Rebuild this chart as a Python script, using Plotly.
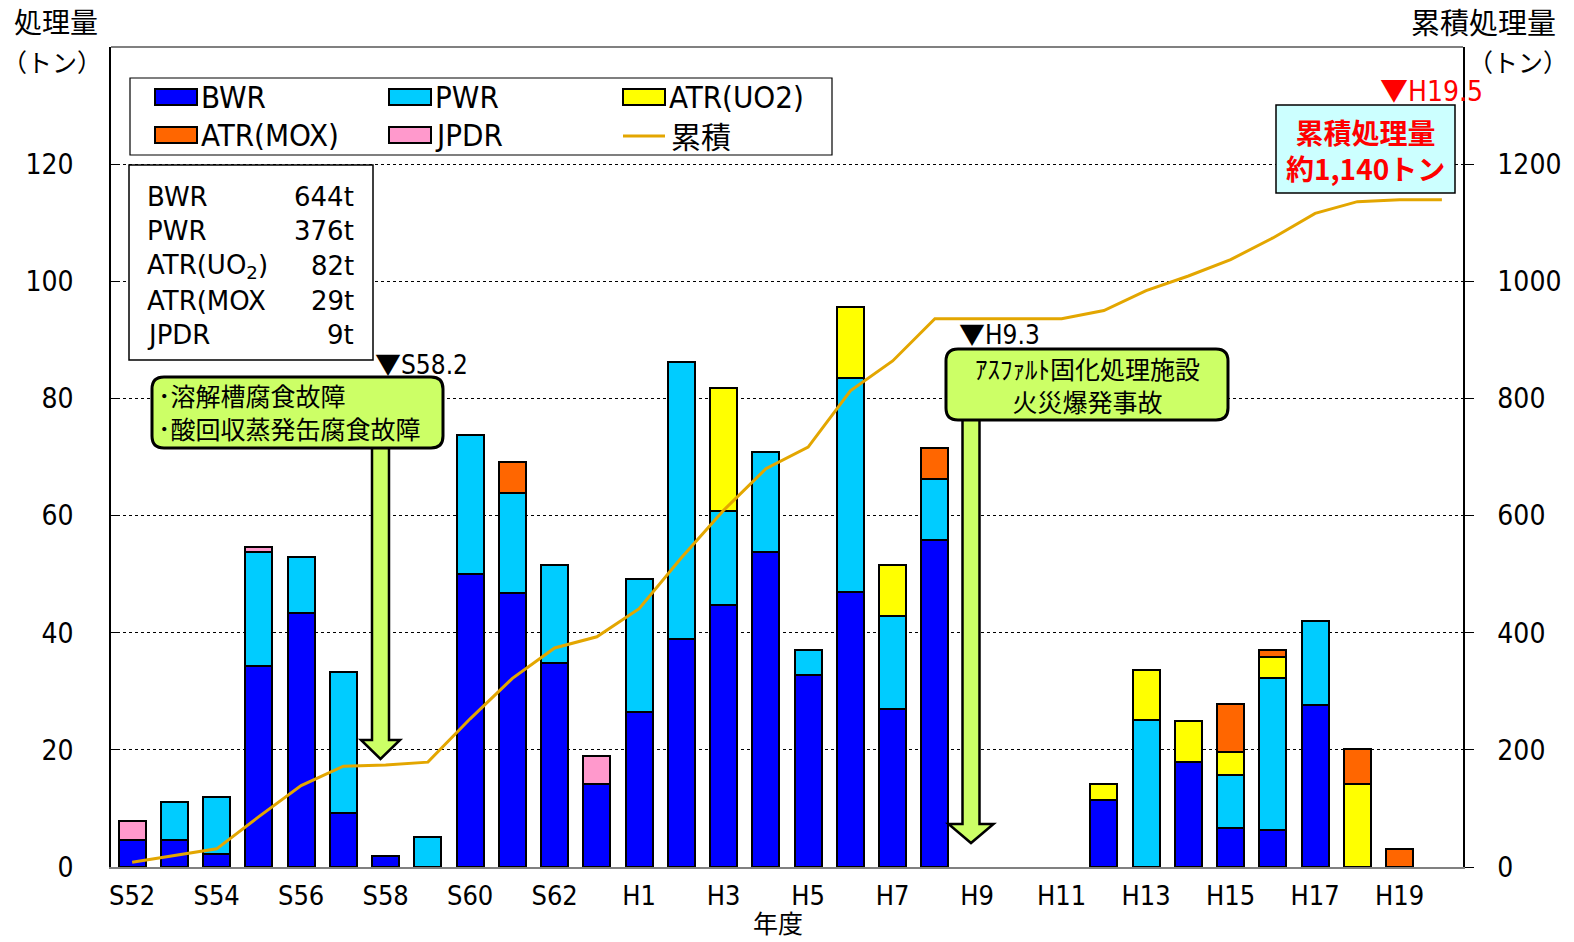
import plotly.graph_objects as go

# 年度 (fiscal years)
years = ([f"S{n}" for n in range(52, 64)] + [f"H{n}" for n in range(1, 21)])

# 処理量 per year (tons), stacked bottom to top
bwr = [4.6, 4.6, 2.3, 34.4, 43.4, 9.3, 1.8, 0, 50.0, 46.8, 34.8, 14.1,
       26.5, 39.0, 44.7, 53.8, 32.7, 47.0, 27.0, 55.8, 0, 0, 0, 11.5,
       0, 17.9, 6.7, 6.4, 27.6, 0, 0, 0]
pwr = [0, 6.5, 9.6, 19.4, 9.6, 24.0, 0, 5.2, 23.7, 17.1, 16.7, 0,
       22.6, 47.3, 16.1, 17.1, 4.3, 36.5, 15.8, 10.4, 0, 0, 0, 0,
       25.1, 0, 9.0, 25.8, 14.4, 0, 0, 0]
atr_uo2 = [0, 0, 0, 0, 0, 0, 0, 0, 0, 0, 0, 0,
           0, 0, 21.0, 0, 0, 12.1, 8.7, 0, 0, 0, 0, 2.7,
           8.6, 7.1, 3.9, 3.7, 0, 14.1, 0, 0]
atr_mox = [0, 0, 0, 0, 0, 0, 0, 0, 0, 5.3, 0, 0,
           0, 0, 0, 0, 0, 0, 0, 5.3, 0, 0, 0, 0,
           0, 0, 8.3, 1.2, 0, 6.1, 3.0, 0]
jpdr = [3.3, 0, 0, 0.9, 0, 0, 0, 0, 0, 0, 0, 4.9,
        0, 0, 0, 0, 0, 0, 0, 0, 0, 0, 0, 0,
        0, 0, 0, 0, 0, 0, 0, 0]

# 累積処理量 (tons)
cumulative = [8, 19, 31, 86, 139, 172, 174, 179, 253, 322, 374, 393,
              441, 528, 609, 680, 717, 813, 864, 936, 936, 936, 936, 950,
              984, 1009, 1037, 1074, 1116, 1136, 1139, 1139]

x_ticks = years[::2]
y_ticks = [0, 20, 40, 60, 80, 100, 120]
y2_ticks = [0, 200, 400, 600, 800, 1000, 1200]

series = [
    ("BWR", bwr, "#0000FF"),
    ("PWR", pwr, "#00CCFF"),
    ("ATR(UO2)", atr_uo2, "#FFFF00"),
    ("ATR(MOX)", atr_mox, "#FF6600"),
    ("JPDR", jpdr, "#FF99CC"),
]
LINE_COLOR = "#E3A600"
GREEN = "#CCFF66"

W, H = 1574, 942
X0, X1, Y0, Y1 = 111, 1463, 47, 867  # plot area, pixels


def px(x):
    return (x - X0) / (X1 - X0)


def py(y):
    return (Y1 - y) / (Y1 - Y0)


JP = "Noto Sans CJK JP"
NARROW = "Liberation Sans Narrow, DejaVu Sans Condensed, Liberation Sans"


def tri(text):
    # ▼ marker drawn in the CJK face so it keeps its full size
    return f"<span style='font-family:{JP}'>▼</span>{text}"


fig = go.Figure()
for name, vals, color in series:
    fig.add_trace(go.Bar(
        x=years, y=[v if v else None for v in vals], name=name,
        marker=dict(color=color, line=dict(color="black", width=2)),
        width=0.64, showlegend=False,
    ))
fig.add_trace(go.Scatter(
    x=years, y=cumulative, yaxis="y2", mode="lines", name="累積",
    line=dict(color=LINE_COLOR, width=3), showlegend=False,
))

shapes = []
annotations = []


def note(x, y, text, size, family=JP, color="black", xanchor="center", align="center"):
    annotations.append(dict(xref="paper", yref="paper", x=px(x), y=py(y), text=text,
                            showarrow=False, xanchor=xanchor, yanchor="middle", align=align,
                            font=dict(family=family, size=size, color=color)))


# top frame line
shapes.append(dict(type="line", xref="paper", yref="paper", x0=0, x1=1, y0=1, y1=1,
                   line=dict(color="#808080", width=2)))

# legend box
shapes.append(dict(type="rect", xref="paper", yref="paper",
                   x0=px(130), x1=px(832), y0=py(155), y1=py(78),
                   line=dict(color="black", width=1.2), fillcolor="white", layer="above"))
legend_cols = [155, 389, 623]
legend_rows = [97, 135]
entries = [("BWR", "#0000FF"), ("PWR", "#00CCFF"), ("ATR(UO2)", "#FFFF00"),
           ("ATR(MOX)", "#FF6600"), ("JPDR", "#FF99CC"), ("累積", None)]
for i, (label, color) in enumerate(entries):
    cx = legend_cols[i % 3]
    cy = legend_rows[i // 3]
    if color:
        shapes.append(dict(type="rect", xref="paper", yref="paper",
                           x0=px(cx), x1=px(cx + 42), y0=py(cy + 8), y1=py(cy - 8),
                           line=dict(color="black", width=2), fillcolor=color, layer="above"))
        note(cx + 44, cy, label, 31, family=NARROW, xanchor="left")
    else:
        shapes.append(dict(type="line", xref="paper", yref="paper",
                           x0=px(cx), x1=px(cx + 42), y0=py(cy + 1), y1=py(cy + 1),
                           line=dict(color=LINE_COLOR, width=3), layer="above"))
        note(cx + 46, cy, label, 30, xanchor="left")

# totals box
shapes.append(dict(type="rect", xref="paper", yref="paper",
                   x0=px(129), x1=px(373), y0=py(360), y1=py(165),
                   line=dict(color="black", width=1.5), fillcolor="white", layer="above"))
totals = [("BWR", "644t"), ("PWR", "376t"), ("ATR(UO<sub>2</sub>)", "82t"),
          ("ATR(MOX", "29t"), ("JPDR", "9t")]
for i, (lab, val) in enumerate(totals):
    yy = 197 + i * 34.5
    note(145, yy, lab, 26, family="DejaVu Sans", xanchor="left", align="left")
    note(356, yy, val, 26, family="DejaVu Sans", xanchor="right", align="right")


def down_arrow(cx, top, neck, tip, shaft_half, head_half):
    pts = [(cx - shaft_half, top), (cx + shaft_half, top), (cx + shaft_half, neck),
           (cx + head_half, neck), (cx, tip), (cx - head_half, neck), (cx - shaft_half, neck)]
    return "M " + " L ".join(f"{px(a):.5f},{py(b):.5f}" for a, b in pts) + " Z"


def rounded_rect(x0, y0, x1, y1, r):
    p = [
        ("M", [(x0 + r, y0)]), ("L", [(x1 - r, y0)]), ("Q", [(x1, y0), (x1, y0 + r)]),
        ("L", [(x1, y1 - r)]), ("Q", [(x1, y1), (x1 - r, y1)]), ("L", [(x0 + r, y1)]),
        ("Q", [(x0, y1), (x0, y1 - r)]), ("L", [(x0, y0 + r)]), ("Q", [(x0, y0), (x0 + r, y0)]),
    ]
    out = []
    for cmd, pts in p:
        out.append(cmd + " " + " ".join(f"{px(a):.5f},{py(b):.5f}" for a, b in pts))
    return " ".join(out) + " Z"


# S58.2 event
shapes.append(dict(type="path", xref="paper", yref="paper",
                   path=down_arrow(380.5, 440, 740, 759, 8.5, 19.5),
                   fillcolor=GREEN, line=dict(color="black", width=2.5), layer="above"))
shapes.append(dict(type="path", xref="paper", yref="paper",
                   path=rounded_rect(152, 377, 443, 448, 12),
                   fillcolor=GREEN, line=dict(color="black", width=3), layer="above"))
note(156, 412, "･溶解槽腐食故障<br>･酸回収蒸発缶腐食故障", 25, xanchor="left", align="left")
note(373, 362, tri("S58.2"), 26, family=NARROW, xanchor="left", align="left")

# H9.3 event
shapes.append(dict(type="path", xref="paper", yref="paper",
                   path=down_arrow(971, 412, 824, 843, 8.5, 22.5),
                   fillcolor=GREEN, line=dict(color="black", width=2.5), layer="above"))
shapes.append(dict(type="path", xref="paper", yref="paper",
                   path=rounded_rect(946, 349, 1228, 420, 12),
                   fillcolor=GREEN, line=dict(color="black", width=3), layer="above"))
note(1087, 384, "ｱｽﾌｧﾙﾄ固化処理施設<br>火災爆発事故", 25)
note(957, 332, tri("H9.3"), 26, family=NARROW, xanchor="left", align="left")

# H19.5 total
shapes.append(dict(type="rect", xref="paper", yref="paper",
                   x0=px(1276), x1=px(1455), y0=py(193), y1=py(105),
                   line=dict(color="black", width=1.5), fillcolor="#CCFFFF", layer="above"))
note(1365, 150, "<b>累積処理量<br>約1,140トン</b>", 28, color="#FF0000")
note(1378, 89, tri("H19.5"), 28, family=NARROW, color="#FF0000", xanchor="left", align="left")

# axis titles
note(56, 21, "処理量", 28)
note(52, 61, "（トン）", 25)
note(1483, 21, "累積処理量", 29)
note(1518, 61, "（トン）", 25)
note(778, 922, "年度", 25)

fig.update_layout(
    width=W, height=H,
    margin=dict(l=X0, r=W - X1, t=Y0, b=H - Y1, pad=0),
    paper_bgcolor="white", plot_bgcolor="white",
    barmode="stack", bargap=0.36,
    xaxis=dict(type="category", categoryorder="array", categoryarray=years,
               range=[-0.5, len(years) - 0.5], tickvals=x_ticks, ticktext=x_ticks,
               showline=True, linecolor="#808080", linewidth=2, ticks="",
               showgrid=False, tickfont=dict(family=NARROW, size=27, color="black"),
               ticklabelstandoff=4),
    yaxis=dict(range=[0, 140], tickvals=y_ticks, showgrid=True, gridcolor="black",
               griddash="dot", gridwidth=1, zeroline=False, showline=True,
               linecolor="black", linewidth=1.5, ticks="inside", ticklen=9,
               tickcolor="black", tickfont=dict(family=NARROW, size=28, color="black"),
               ticklabelstandoff=30),
    yaxis2=dict(range=[0, 1400], tickvals=y2_ticks, overlaying="y", side="right",
                showgrid=False, zeroline=False, showline=True, linecolor="black",
                linewidth=1.5, ticks="outside", ticklen=9, tickcolor="black",
                tickfont=dict(family=NARROW, size=28, color="black"),
                ticklabelstandoff=18),
    shapes=shapes, annotations=annotations,
)

fig.write_html("out.html")
